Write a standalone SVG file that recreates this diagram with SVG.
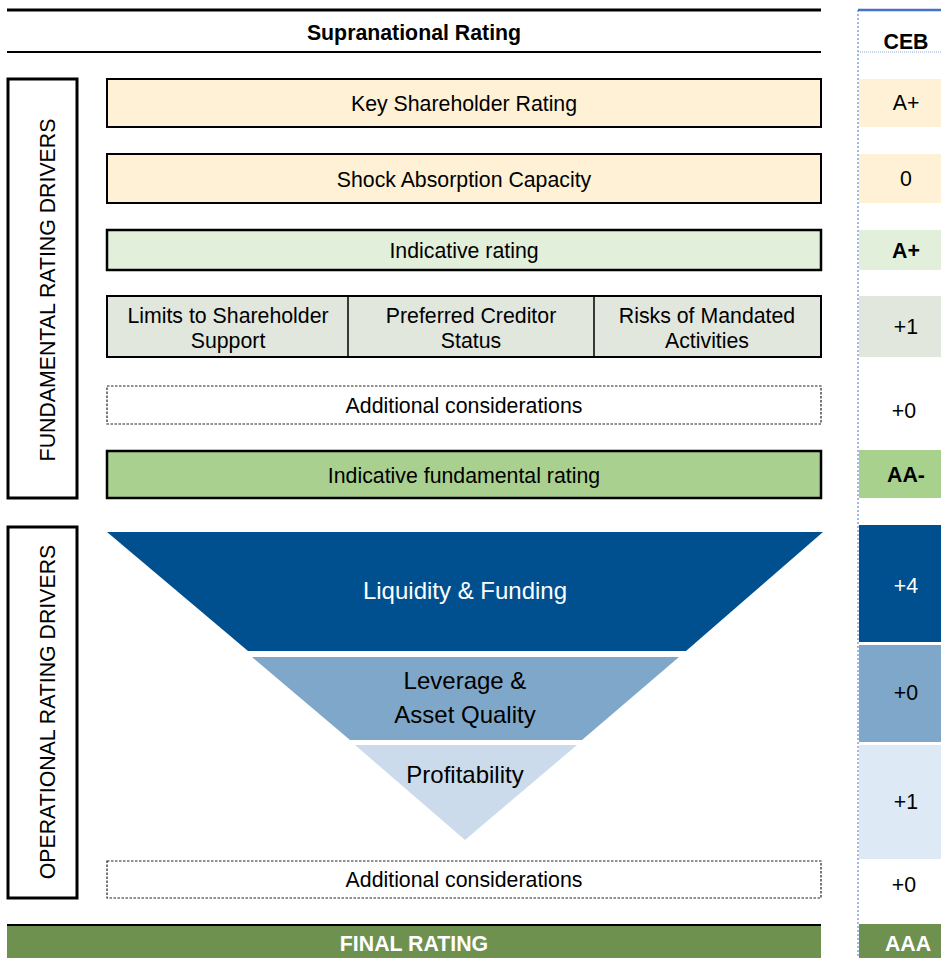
<svg xmlns="http://www.w3.org/2000/svg" width="941" height="958" viewBox="0 0 941 958">
<style>
text{font-family:"Liberation Sans",Arial,sans-serif;fill:#000}
.t{font-size:21.3px;text-anchor:middle}
.f{font-size:24px;text-anchor:middle}
.b{font-weight:bold}
.box{stroke:#000;stroke-width:2}
.dash{fill:#fff;stroke:#222;stroke-width:1.2;stroke-dasharray:2.5 1.5}
.side{fill:#fff;stroke:#000;stroke-width:3}
.w{fill:#fff}
</style>
<rect width="941" height="958" fill="#fff"/>
<g id="header">
<line x1="7" y1="10" x2="821" y2="10" stroke="#000" stroke-width="3"/>
<line x1="7" y1="52" x2="821" y2="52" stroke="#000" stroke-width="2"/>
<text class="t b" x="414" y="40">Supranational Rating</text>
</g>
<g id="ceb-column">
<line x1="858" y1="10" x2="941" y2="10" stroke="#4472c4" stroke-width="2.5"/>
<line x1="858" y1="10" x2="858" y2="958" stroke="#4472c4" stroke-width="1" stroke-dasharray="2 2"/>
<line x1="858" y1="52" x2="941" y2="52" stroke="#8fa8d8" stroke-width="1" stroke-dasharray="1 1"/>
<text class="t b" x="906" y="49">CEB</text>
<rect x="859" y="79" width="82" height="48" fill="#fef1d5"/>
<text class="t" x="906" y="110">A+</text>
<rect x="859" y="154" width="82" height="49" fill="#fef1d5"/>
<text class="t" x="906" y="186">0</text>
<rect x="859" y="230" width="82" height="40" fill="#e2efda"/>
<text class="t b" x="906" y="258">A+</text>
<rect x="859" y="296" width="82" height="61" fill="#e1e7dd"/>
<text class="t" x="906" y="334">+1</text>
<text class="t" x="904" y="418">+0</text>
<rect x="859" y="450" width="82" height="48" fill="#a9d18e"/>
<text class="t b" x="906" y="482">AA-</text>
<rect x="859" y="525" width="82" height="117" fill="#00508f"/>
<text class="t w" x="906" y="593">+4</text>
<rect x="859" y="645" width="82" height="97" fill="#7fa7c9"/>
<text class="t" x="906" y="700">+0</text>
<rect x="859" y="745" width="82" height="114" fill="#dde9f5"/>
<text class="t" x="906" y="809">+1</text>
<text class="t" x="904" y="892">+0</text>
<rect x="859" y="924" width="82" height="34" fill="#6e9150"/>
<text class="t b w" x="908" y="951">AAA</text>
</g>
<g id="fundamental-label">
<rect class="side" x="8" y="79" width="69" height="419"/>
<text class="t" transform="translate(55,290) rotate(-90)">FUNDAMENTAL RATING DRIVERS</text>
</g>
<g id="operational-label">
<rect class="side" x="8" y="527" width="69" height="371"/>
<text class="t" transform="translate(55,712) rotate(-90)">OPERATIONAL RATING DRIVERS</text>
</g>
<g id="key-shareholder">
<rect class="box" x="107" y="79" width="714" height="48" fill="#fef1d5"/>
<text class="t" x="464" y="111">Key Shareholder Rating</text>
</g>
<g id="shock-absorption">
<rect class="box" x="107" y="154" width="714" height="49" fill="#fef1d5"/>
<text class="t" x="464" y="187">Shock Absorption Capacity</text>
</g>
<g id="indicative-rating">
<rect x="107" y="230" width="714" height="40" fill="#e2efda" stroke="#000" stroke-width="2.5"/>
<text class="t" x="464" y="258">Indicative rating</text>
</g>
<g id="adjustments">
<rect class="box" x="107" y="296" width="714" height="61" fill="#e1e7dd"/>
<line x1="348" y1="296" x2="348" y2="357" stroke="#000" stroke-width="1.5"/>
<line x1="594" y1="296" x2="594" y2="357" stroke="#000" stroke-width="1.5"/>
<text class="t" x="228" y="323">Limits to Shareholder</text>
<text class="t" x="228" y="348">Support</text>
<text class="t" x="471" y="323">Preferred Creditor</text>
<text class="t" x="471" y="348">Status</text>
<text class="t" x="707" y="323">Risks of Mandated</text>
<text class="t" x="707" y="348">Activities</text>
</g>
<g id="additional-1">
<rect class="dash" x="107" y="386" width="714" height="38"/>
<text class="t" x="464" y="413">Additional considerations</text>
</g>
<g id="indicative-fundamental">
<rect x="107" y="451" width="714" height="47" fill="#a9d08e" stroke="#000" stroke-width="2.5"/>
<text class="t" x="464" y="483">Indicative fundamental rating</text>
</g>
<g id="liquidity">
<polygon points="107,532 823,532 686,651 248,651" fill="#00508f"/>
<text class="f w" x="465" y="599">Liquidity &amp; Funding</text>
</g>
<g id="leverage">
<polygon points="252,657 679,657 582,740 350,740" fill="#7fa7c9"/>
<text class="f" x="465" y="689">Leverage &amp;</text>
<text class="f" x="465" y="723">Asset Quality</text>
</g>
<g id="profitability">
<polygon points="355,745 577,745 465,840" fill="#cbdbeb"/>
<text class="f" x="465" y="783">Profitability</text>
</g>
<g id="additional-2">
<rect class="dash" x="107" y="861" width="714" height="37"/>
<text class="t" x="464" y="887">Additional considerations</text>
</g>
<g id="final-rating">
<rect x="7" y="924" width="814" height="34" fill="#6e9150"/>
<line x1="7" y1="925" x2="821" y2="925" stroke="#000" stroke-width="2"/>
<text class="t b w" x="414" y="951">FINAL RATING</text>
</g>
<g id="connectors"></g>
</svg>
